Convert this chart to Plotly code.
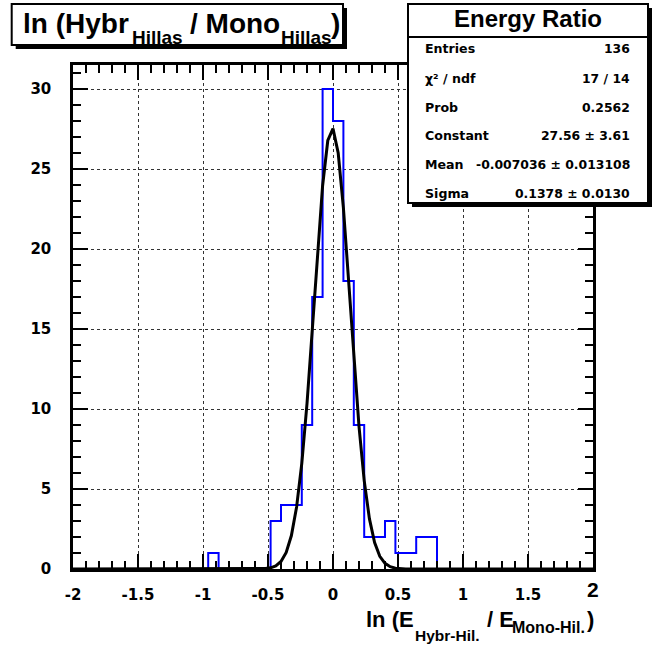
import numpy as np
import plotly.graph_objects as go

# ---------------- data ----------------
BIN_LOW = -2.0
BIN_WIDTH = 0.08
COUNTS = [0, 0, 0, 0, 0, 0, 0, 0, 0, 0,
          0, 0, 0, 1, 0, 0, 0, 0, 0, 3,
          4, 4, 9, 17, 30, 28, 18, 9, 2, 2,
          3, 1, 1, 2, 2, 0, 0, 0, 0, 0,
          0, 0, 0, 0, 0, 0, 0, 0, 0, 0]
FIT_CONSTANT = 27.56
FIT_MEAN = -0.007036
FIT_SIGMA = 0.1378
X_TICKS = [-2, -1.5, -1, -0.5, 0, 0.5, 1, 1.5, 2]
X_TICK_TEXT = ["-2", "-1.5", "-1", "-0.5", "0", "0.5", "1", "1.5", ""]
Y_TICKS = [0, 5, 10, 15, 20, 25, 30]
STATS_TITLE = "Energy Ratio"
STATS_LABELS = ["Entries", "χ² / ndf", "Prob", "Constant", "Mean", "Sigma"]
STATS_VALUES = ["136", "17 / 14", "0.2562", "27.56 ± 3.61",
                "-0.007036 ± 0.013108", "0.1378 ± 0.0130"]

# ---------------- geometry helpers ----------------
W, H = 654, 646
L, R, T, B = 73, 593, 65, 569


def px(x):
    return (x - L) / (R - L)


def py(y):
    return (B - y) / (B - T)


FONT = "Liberation Sans"
FONT2 = "DejaVu Sans"

# histogram outline (runs of non-empty bins)
hx, hy = [], []
n = len(COUNTS)
k = 0
while k < n:
    if COUNTS[k] == 0:
        k += 1
        continue
    start = k
    x0 = BIN_LOW + BIN_WIDTH * start
    hx.append(x0); hy.append(0)
    while k < n and COUNTS[k] > 0:
        xl = BIN_LOW + BIN_WIDTH * k
        xr = xl + BIN_WIDTH
        hx += [xl, xr]
        hy += [COUNTS[k], COUNTS[k]]
        k += 1
    hx.append(BIN_LOW + BIN_WIDTH * k); hy.append(0)
    hx.append(None); hy.append(None)

# gaussian fit curve
gx = np.linspace(-2, 2, 101)
gy = FIT_CONSTANT * np.exp(-0.5 * ((gx - FIT_MEAN) / FIT_SIGMA) ** 2)

fig = go.Figure()
fig.add_trace(go.Scatter(x=hx, y=hy, mode="lines",
                         line=dict(color="#0000ff", width=2),
                         hoverinfo="skip"))
fig.add_trace(go.Scatter(x=gx, y=gy, mode="lines",
                         line=dict(color="black", width=3),
                         hoverinfo="skip"))

axis_common = dict(
    showline=True, linecolor="black", linewidth=2.5, mirror="ticks",
    ticks="inside", ticklen=15, tickwidth=1.5, tickcolor="black",
    showgrid=True, gridcolor="#333333", gridwidth=1, griddash="dot",
    zeroline=False,
    tickfont=dict(family=FONT2, size=15, color="black", weight="bold"),
)

fig.update_xaxes(range=[-2, 2], tickmode="array", tickvals=X_TICKS,
                 ticktext=X_TICK_TEXT, ticklabelstandoff=10,
                 minor=dict(dtick=0.1, ticklen=8, tickwidth=1.5,
                            tickcolor="black", ticks="inside", showgrid=False),
                 **axis_common)
fig.update_yaxes(range=[0, 31.5], tickmode="array", tickvals=Y_TICKS,
                 ticklabelstandoff=16,
                 minor=dict(dtick=1, ticklen=8, tickwidth=1.5,
                            tickcolor="black", ticks="inside", showgrid=False),
                 **axis_common)

shapes = []


def box(x0, y0, x1, y1, shadow=4):
    shapes.append(dict(type="rect", xref="paper", yref="paper",
                       x0=px(x0 + shadow), x1=px(x1 + shadow),
                       y0=py(y0 + shadow), y1=py(y1 + shadow),
                       fillcolor="black", line=dict(width=0), layer="above"))
    shapes.append(dict(type="rect", xref="paper", yref="paper",
                       x0=px(x0), x1=px(x1), y0=py(y0), y1=py(y1),
                       fillcolor="white", line=dict(color="black", width=2),
                       layer="above"))


box(11.7, 4, 343, 45)
box(408, 4, 648, 203)
shapes.append(dict(type="line", xref="paper", yref="paper",
                   x0=px(408), x1=px(648), y0=py(37), y1=py(37),
                   line=dict(color="black", width=2), layer="above"))

annotations = []


def ann(text, x, y, size, xanchor="left", family=FONT):
    annotations.append(dict(text=text, xref="paper", yref="paper",
                            x=px(x), y=py(y), xanchor=xanchor, yanchor="middle",
                            showarrow=False,
                            font=dict(family=family, size=size, color="black",
                                      weight="bold")))


# title pieces
ann("ln (Hybr", 21, 23, 28)
ann("Hillas", 130, 38, 19)
ann("/ Mono", 188, 23, 28)
ann("Hillas", 279, 38, 19)
ann(")", 329, 23, 28)

# stats box
ann(STATS_TITLE, 528, 18.5, 24, xanchor="center")
row_y = [49, 78, 107, 135.5, 164, 193]
for lab, val, yy in zip(STATS_LABELS, STATS_VALUES, row_y):
    ann(lab, 423, yy, 12.6, family=FONT2)
    ann(val, 632, yy, 12.4, xanchor="right", family=FONT2)

# x-axis title pieces
ann("ln (E", 364, 619, 22)
ann("Hybr-Hil.", 413, 635, 15.5)
ann("/ E", 485, 619, 22)
ann("Mono-Hil.", 510, 627.5, 16)
ann(")", 585, 619, 22)

# large last tick label "2"
ann("2", 593, 589.5, 21, xanchor="center")

fig.update_layout(width=W, height=H, autosize=False,
                  margin=dict(l=L, r=W - R, t=T, b=H - B, pad=0),
                  plot_bgcolor="white", paper_bgcolor="white",
                  showlegend=False, shapes=shapes, annotations=annotations)

fig.write_html("out.html",
               config={"displayModeBar": False},
               post_script="document.body.style.margin='0';"
                           "document.body.style.overflow='hidden';")
